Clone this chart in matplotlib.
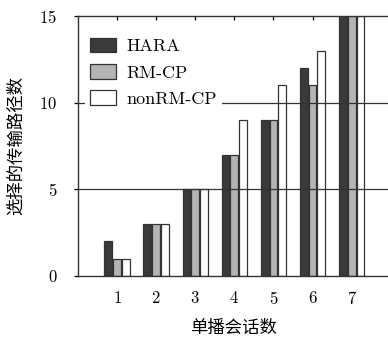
import numpy as np
import matplotlib
matplotlib.use('Agg')
import matplotlib.pyplot as plt

plt.rcParams['axes.formatter.use_mathtext'] = True

# data
sessions = [1, 2, 3, 4, 5, 6, 7]
hara = [2, 3, 5, 7, 9, 12, 15]
rm_cp = [1, 3, 5, 7, 9, 11, 15]
nonrm_cp = [1, 3, 5, 9, 11, 13, 15]
series_names = ['HARA', 'RM-CP', 'nonRM-CP']

serif = ['cmr10', 'DejaVu Serif']
cjk = ['Noto Sans CJK SC', 'DejaVu Sans']

fig = plt.figure(figsize=(3.88, 3.38), dpi=100)
ax = fig.add_axes([78/388, 1-276/338, 1-78/388+0.002, (276-16)/338])

x = np.array(sessions, dtype=float)
w = 0.2
off = 0.225
edge = '#333333'
ax.bar(x-off, hara, w, color='#3a3a3a', edgecolor=edge, linewidth=0.9, label=series_names[0], zorder=2)
ax.bar(x, rm_cp, w, color='#b4b4b4', edgecolor=edge, linewidth=0.9, label=series_names[1], zorder=2)
ax.bar(x+off, nonrm_cp, w, color='white', edgecolor=edge, linewidth=0.9, label=series_names[2], zorder=2)

for yv in [5, 10]:
    ax.axhline(yv, color='#333333', linewidth=0.9, zorder=3)

ax.set_xlim(0, 7.95)
ax.set_ylim(0, 15)
ax.set_xticks(sessions)
ax.set_yticks([0, 5, 10, 15])
ax.tick_params(axis='x', bottom=False, top=True, labelbottom=True, labeltop=False,
               direction='in', length=3, width=0.9, pad=10, labelsize=12)
ax.tick_params(axis='y', direction='out', length=3, width=0.9, pad=12, labelsize=12)
for lab in ax.get_xticklabels() + ax.get_yticklabels():
    lab.set_family(serif)
ax.spines['right'].set_visible(False)
for s in ['left', 'top', 'bottom']:
    ax.spines[s].set_linewidth(1.0)
    ax.spines[s].set_color('#333333')

ax.set_xlabel('单播会话数', family=cjk, fontsize=12.5, labelpad=9)
ax.set_ylabel('选择的传输路径数', family=cjk, fontsize=12.5, labelpad=10)

leg = ax.legend(loc='upper left', bbox_to_anchor=(-0.008, 0.972),
                prop={'family': serif, 'size': 13},
                frameon=True, fancybox=False, edgecolor='none', facecolor='white', framealpha=1,
                handlelength=1.45, handleheight=0.85, handletextpad=0.55, labelspacing=0.55,
                borderpad=0.3, borderaxespad=0.5)
leg.set_zorder(5)

fig.savefig('out.png', dpi=100)
